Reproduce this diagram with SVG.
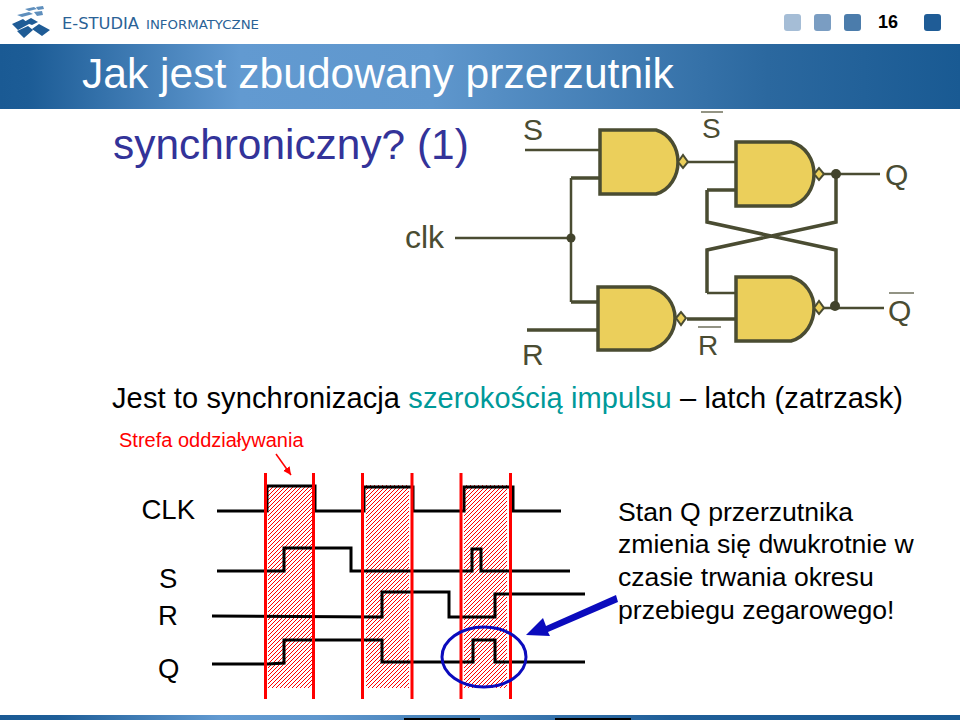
<svg xmlns="http://www.w3.org/2000/svg" width="960" height="720" viewBox="0 0 960 720">
<style>
text{font-family:"Liberation Sans",Arial,sans-serif}
.lab{font-size:26.600px;fill:#000}
.sid{font-size:27.500px;fill:#000}
.gl{font-size:30px;fill:#4a4c32}
.gate{fill:#ebcf5b;stroke:#4a4c32;stroke-width:3.500}
.bub{fill:#ebcf5b;stroke:#4a4c32;stroke-width:2}
.w{fill:none;stroke:#4a4c32;stroke-width:2.500}
.wt{fill:none;stroke:#4a4c32;stroke-width:3.500}
.ov{stroke:#4a4c32;stroke-width:1.200}
.sig{fill:none;stroke:#000;stroke-width:3}
.red{stroke:#f00;stroke-width:3}
.dot{fill:#42442c}
.logo{fill:#1f5c96}
.logo2{fill:#5f8fbd}
.lt{font-family:"DejaVu Sans",sans-serif;fill:#2a6296}
</style>
<defs>
<linearGradient id="band" x1="0" x2="1" y1="0" y2="0">
<stop offset="0" stop-color="#1a5a94"/><stop offset=".03" stop-color="#1c5c96"/><stop offset=".25" stop-color="#629ad1"/><stop offset=".45" stop-color="#5f97cd"/><stop offset=".8" stop-color="#2b689f"/><stop offset="1" stop-color="#195a93"/>
</linearGradient>
<linearGradient id="band2" x1="0" x2="1" y1="0" y2="0">
<stop offset="0" stop-color="#1a5a94"/><stop offset=".06" stop-color="#1e5e98"/><stop offset=".23" stop-color="#629ad1"/><stop offset=".33" stop-color="#5f97cd"/><stop offset=".7" stop-color="#1f5e98"/><stop offset="1" stop-color="#195a93"/>
</linearGradient>
<pattern id="hatch" width="4" height="4" patternUnits="userSpaceOnUse">
<rect width="4" height="4" fill="#fff"/>
<path d="M-1 1L1 -1M0 4L4 0M3 5L5 3" stroke="#f00" stroke-width="1"/>
</pattern>
<marker id="rarr" markerUnits="userSpaceOnUse" markerWidth="10" markerHeight="10" refX="8" refY="4" orient="auto"><path d="M0 0L8 4L0 8Z" fill="#f00"/></marker>
</defs>
<rect width="960" height="720" fill="#fff"/>
<g id="logo">
<path class="logo" d="M12 24L23 19L29 24L18 30Z M17 31L28 26L33 30L24 38Z M32 29L39 24L50 30L42 36Z M24 22L31 18L38 22L32 25Z"/>
<path class="logo2" d="M17 15L29 12L33 14L22 17Z M25 9L34 7L37 9L29 11Z M36 7L43 6L44 9L38 10Z M34 12L42 11L43 15L37 16Z"/>
<text class="lt" x="62" y="28.500" font-size="16" textLength="77" lengthAdjust="spacingAndGlyphs">E-STUDIA</text>
<text class="lt" x="146" y="28.500" font-size="12.500" textLength="113" lengthAdjust="spacingAndGlyphs">INFORMATYCZNE</text>
</g>
<g id="nav">
<rect x="784" y="14" width="17" height="17" rx="3" fill="#a5bdd6"/>
<rect x="814" y="14" width="17" height="17" rx="3" fill="#7a9dc2"/>
<rect x="844" y="14" width="17" height="17" rx="3" fill="#4b7cab"/>
<rect x="924" y="14" width="17" height="17" rx="3" fill="#1f5c96"/>
<text x="888" y="28" text-anchor="middle" style="font-size:18px;font-weight:bold">16</text>
</g>
<rect id="band-top" x="0" y="44" width="960" height="65" fill="url(#band)"/>
<text x="82" y="88" style="font-size:42.600px;fill:#fff">Jak jest zbudowany przerzutnik</text>
<text x="113" y="159" style="font-size:42.400px;fill:#333399">synchroniczny? (1)</text>
<g id="connectors">
<path class="w" d="M525 150H600M455 238H571M571 178V302M688 162H736"/>
<path class="wt" d="M571 178H600M571 302H598M527 330H598M687 319H736M707 190H736"/>
<path class="wt" d="M707 190V222L836 250V306M707 293V250L836 222V174"/>
<path class="w" d="M707 293H736M814 174H880M820 308H884"/>
<circle class="dot" cx="836" cy="174" r="5"/>
<circle class="dot" cx="835" cy="306" r="5"/>
<circle class="dot" cx="571" cy="238" r="4.500"/>
</g>
<g id="g1"><path class="gate" d="M600 130H656C670 134 678 148 678 162C678 176 670 190 656 194H600Z"/><path class="bub" d="M678 162L683 155L688 162L683 168Z"/></g>
<g id="g2"><path class="gate" d="M598 287H650C666 291 675 304 675 318C675 332 666 346 650 350H598Z"/><path class="bub" d="M676 318L681 312L686 318L681 325Z"/></g>
<g id="g3"><path class="gate" d="M736 142H791C806 146 814 160 814 174C814 188 806 202 791 206H736Z"/><path class="bub" d="M814 174L819 168L824 174L819 180Z"/></g>
<g id="g4"><path class="gate" d="M736 277H791C806 281 814 295 814 308C814 322 806 337 791 341H736Z"/><path class="bub" d="M814 308L819 301L824 308L819 314Z"/></g>
<g id="gate-labels">
<text class="gl" x="523" y="140">S</text>
<text class="gl" x="702" y="138" style="font-size:28px">S</text><path class="ov" d="M701 112H723"/>
<text class="gl" x="405" y="248" style="font-size:32px">clk</text>
<text class="gl" x="522" y="365">R</text>
<text class="gl" x="698" y="355" style="font-size:28px">R</text><path class="ov" d="M698 327H721"/>
<text class="gl" x="885" y="185">Q</text>
<text class="gl" x="888" y="321">Q</text><path class="ov" d="M889 293H914"/>
</g>
<text x="112" y="408" style="font-size:29px" textLength="791">Jest to synchronizacja <tspan fill="#009999">szerokością impulsu</tspan> – latch (zatrzask)</text>
<text x="119" y="447" style="font-size:20px;fill:#f00">Strefa oddziaływania</text>
<path d="M276 454L291 475" stroke="#f00" stroke-width="1.500" marker-end="url(#rarr)"/>
<g id="hatches">
<rect x="268" y="485" width="45" height="203" fill="url(#hatch)"/>
<rect x="366" y="485" width="43" height="203" fill="url(#hatch)"/>
<rect x="464" y="485" width="43" height="203" fill="url(#hatch)"/>
</g>
<g id="signals">
<path class="sig" d="M217 511H267V486H315V511H364V487H413V511H464V487H513V511H561"/>
<path class="sig" d="M217 571H284V548H351V571H472V549H481V571H570"/>
<path class="sig" d="M212 616L382 617V592H449V617H495V594H585"/>
<path class="sig" d="M212 664H268L284 663V640H382V662H473V640H495V662H585"/>
</g>
<g id="zones">
<path class="red" d="M265.500 473V699M313.500 473V699M362.500 473V699M412 473V699M461 473V699M510.500 473V699"/>
</g>
<g id="labels">
<text class="sid" x="141.500" y="519">CLK</text>
<text class="sid" x="159" y="588">S</text>
<text class="sid" x="158" y="625">R</text>
<text class="sid" x="158" y="678">Q</text>
<text class="lab" x="618" y="521">Stan Q przerzutnika</text>
<text class="lab" x="618" y="553">zmienia się dwukrotnie w</text>
<text class="lab" x="618" y="586">czasie trwania okresu</text>
<text class="lab" x="618" y="619">przebiegu zegarowego!</text>
</g>
<ellipse cx="484" cy="657" rx="42" ry="30" fill="none" stroke="#0b0bbd" stroke-width="3"/>
<path d="M616 595L546 626L543 618L526 635L550 636L548 632L618 602Z" fill="#0b0bbd"/>
<rect id="band-bottom" x="0" y="715" width="960" height="5" fill="url(#band2)"/>
<rect x="404" y="718" width="76" height="2" fill="#000"/>
<rect x="555" y="718" width="76" height="2" fill="#000"/>
</svg>
